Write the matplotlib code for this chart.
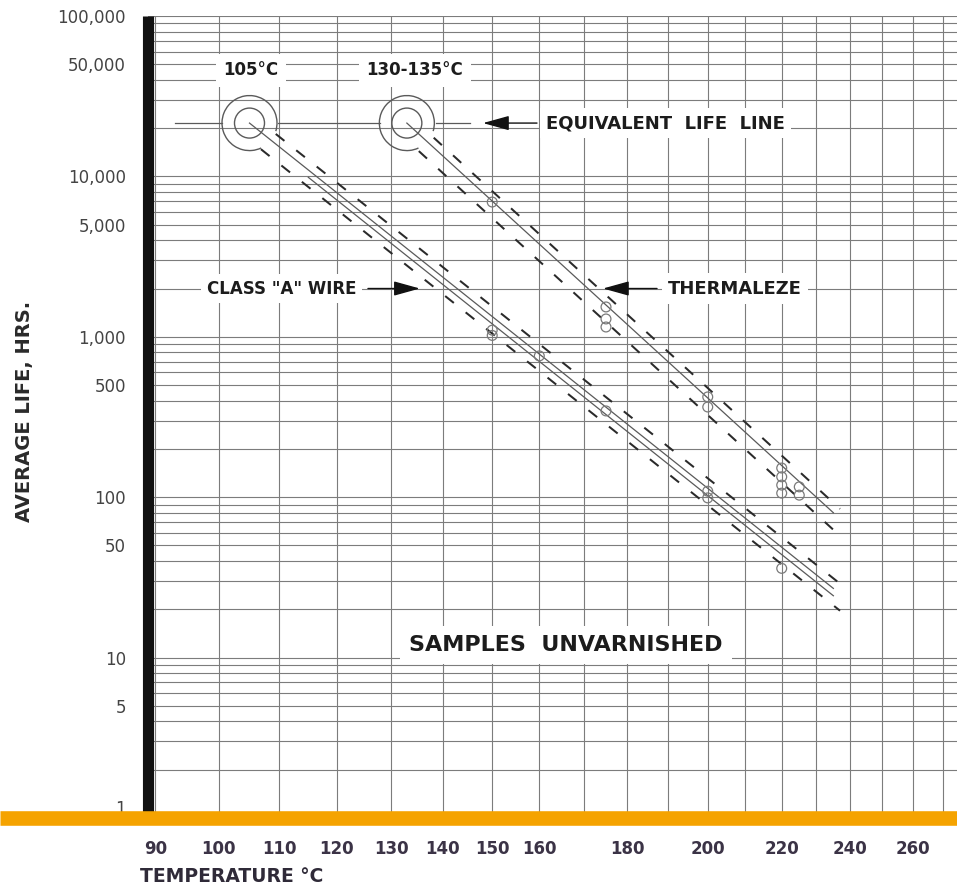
import numpy as np
import matplotlib
matplotlib.use('Agg')
import matplotlib.pyplot as plt
from matplotlib.patches import Arc
from matplotlib.lines import Line2D
from matplotlib.transforms import ScaledTranslation
from matplotlib.ticker import FixedLocator, NullLocator

plt.rcParams['font.family'] = ['DejaVu Sans']

# axis grid / labels
GRID_TEMPS = list(range(90, 280, 10))
TEMP_LABELS = [90, 100, 110, 120, 130, 140, 150, 160, 180, 200, 220, 240, 260]
LIFE_LABELS = [1, 5, 10, 50, 100, 500, 1000, 5000, 10000, 50000, 100000]

# equivalent life line and the two rated temperature circles
EQUIV_LIFE = 21500
RATED_TEMPS = [105, 133]
RATED_NAMES = ['105°C', '130-135°C']
EQUIV_SEGS_T = [(93.0, 100.5), (109.8, 127.9), (138.6, 145.4)]

# class "A" wire test points and lines
CLASSA_T = [150, 150, 160, 175, 200, 200, 220]
CLASSA_H = [1100, 1020, 760, 345, 109, 99, 36]
CLASSA_LINE_T = [105, 235]
CLASSA_LINE_H = [21500, 27]
CLASSA_LINE2_T = [115, 235]
CLASSA_LINE2_H = [9870, 24.3]
CLASSA_UP_T = [109.4, 237]
CLASSA_UP_H = [18390, 28.9]
CLASSA_LO_T = [106.9, 237]
CLASSA_LO_H = [14780, 19.6]

# thermaleze test points and lines
THERM_T = [150, 175, 175, 175, 200, 200, 220, 220, 220, 220, 225, 225]
THERM_H = [6920, 1535, 1292, 1151, 422, 365, 152, 134, 119, 106, 116, 103]
THERM_LINE_T = [133, 235]
THERM_LINE_H = [21500, 80]
THERM_UP_T = [138.2, 237]
THERM_UP_H = [17430, 84.6]
THERM_LO_T = [135.3, 237]
THERM_LO_H = [14380, 57.4]

GRID_COL = '#7c7c7c'
LINE_COL = '#5a5a5a'
DASH_COL = '#2a2a2a'
PT_COL = '#7a7a7a'
TXT_COL = '#1c1c1c'
ORANGE = '#F5A300'


# reciprocal absolute temperature scale (arrhenius paper)
def fwd(t):
	with np.errstate(divide='ignore', invalid='ignore'):
		return -1.0 / (np.asarray(t, float) + 273.0)

def inv(u):
	with np.errstate(divide='ignore', invalid='ignore'):
		return -1.0 / np.asarray(u, float) - 273.0


fig = plt.figure(figsize=(9.57, 8.9), dpi=100)
ax = fig.add_axes([148/957, 1 - 818/890, (957 - 148)/957, (818 - 16)/890])

ax.set_xscale('function', functions=(fwd, inv))
ax.set_yscale('log')
ax.set_xlim(88.9, 274.9)
ax.set_ylim(1, 100000)

ax.set_xticks(GRID_TEMPS)
ax.set_xticklabels([str(t) if t in TEMP_LABELS else '' for t in GRID_TEMPS])
ax.xaxis.set_minor_locator(NullLocator())

life_grid = [m * 10**d for d in range(5) for m in range(1, 10)] + [100000]
ax.yaxis.set_major_locator(FixedLocator(life_grid))
ax.yaxis.set_minor_locator(NullLocator())
ax.set_yticklabels(['{:,}'.format(v) if v in LIFE_LABELS else '' for v in life_grid])

ax.tick_params(axis='both', length=0)
ax.tick_params(axis='y', pad=16, labelsize=12, labelcolor='#444444')
ax.tick_params(axis='x', pad=16, labelsize=12, labelcolor='#3b3346')
for lab in ax.get_xticklabels():
	lab.set_fontweight('bold')
# the "1" sits just on top of the orange strip
ax.get_yticklabels()[0].set_verticalalignment('bottom')

ax.grid(True, color=GRID_COL, lw=0.8)
ax.set_axisbelow(True)

for s in ['top', 'right', 'bottom']:
	ax.spines[s].set_visible(False)
ax.spines['left'].set_linewidth(8)
ax.spines['left'].set_color('#111111')
ax.spines['left'].set_capstyle('butt')

# orange base strip across the whole sheet
fig.add_artist(Line2D([0, 1], [1 - 818/890, 1 - 818/890], transform=fig.transFigure,
	color=ORANGE, lw=10.5, solid_capstyle='butt', zorder=5))

# equivalent life line pieces
for a, b in EQUIV_SEGS_T:
	ax.plot([a, b], [EQUIV_LIFE, EQUIV_LIFE], color=LINE_COL, lw=0.9)

# rated circles
for t, name in zip(RATED_TEMPS, RATED_NAMES):
	ax.scatter([t], [EQUIV_LIFE], s=(30/1.389)**2, facecolors='none', edgecolors=LINE_COL, lw=1.0, zorder=3)
	trans = fig.dpi_scale_trans + ScaledTranslation(t, EQUIV_LIFE, ax.transData)
	ax.add_patch(Arc((0, 0), 0.55, 0.55, theta1=-17, theta2=295, transform=trans,
		color=LINE_COL, lw=1.0, zorder=3))

ax.text(105.2, 46000, RATED_NAMES[0], ha='center', va='center', fontsize=12, weight='bold', color=TXT_COL,
	bbox=dict(boxstyle='square,pad=0.45', fc='white', ec='none'), zorder=4)
ax.text(134.5, 46000, RATED_NAMES[1], ha='center', va='center', fontsize=12, weight='bold', color=TXT_COL,
	bbox=dict(boxstyle='square,pad=0.45', fc='white', ec='none'), zorder=4)

# life lines
dash = (0, (5.5, 7.5))
ax.plot(CLASSA_LINE_T, CLASSA_LINE_H, color=LINE_COL, lw=0.9)
ax.plot(CLASSA_LINE2_T, CLASSA_LINE2_H, color=LINE_COL, lw=0.9)
ax.plot(CLASSA_UP_T, CLASSA_UP_H, color=DASH_COL, lw=1.45, ls=dash)
ax.plot(CLASSA_LO_T, CLASSA_LO_H, color=DASH_COL, lw=1.45, ls=dash)
ax.plot(THERM_LINE_T, THERM_LINE_H, color=LINE_COL, lw=0.9)
ax.plot(THERM_UP_T, THERM_UP_H, color=DASH_COL, lw=1.45, ls=dash)
ax.plot(THERM_LO_T, THERM_LO_H, color=DASH_COL, lw=1.45, ls=dash)

ax.scatter(CLASSA_T, CLASSA_H, s=50, facecolors='none', edgecolors=PT_COL, lw=0.9, zorder=3)
ax.scatter(THERM_T, THERM_H, s=50, facecolors='none', edgecolors=PT_COL, lw=0.9, zorder=3)

# annotations
arrow = dict(arrowstyle='-|>,head_length=0.9,head_width=0.25', color='#111111', lw=1.0,
	shrinkA=0, shrinkB=0, mutation_scale=18)
white = dict(boxstyle='square,pad=0.35', fc='white', ec='none')

ax.annotate('', xy=(148.1, EQUIV_LIFE), xytext=(159.5, EQUIV_LIFE), arrowprops=arrow)
ax.text(161.5, EQUIV_LIFE, 'EQUIVALENT  LIFE  LINE', ha='left', va='center', fontsize=13,
	weight='bold', color=TXT_COL, bbox=white, zorder=4)

ax.text(110.4, 2000, 'CLASS "A" WIRE', ha='center', va='center', fontsize=12,
	weight='bold', color=TXT_COL, bbox=white, zorder=4)
ax.annotate('', xy=(135.5, 2000), xytext=(125.7, 2000), arrowprops=arrow)

ax.text(207.2, 2000, 'THERMALEZE', ha='center', va='center', fontsize=13,
	weight='bold', color=TXT_COL, bbox=white, zorder=4)
ax.annotate('', xy=(174.3, 2000), xytext=(187.2, 2000), arrowprops=arrow)

ax.text(165.9, 12.0, 'SAMPLES  UNVARNISHED', ha='center', va='center', fontsize=16,
	weight='bold', color=TXT_COL, bbox=dict(boxstyle='square,pad=0.4', fc='white', ec='none'), zorder=4)

# axis titles
fig.text(140/957, 1 - 876/890, 'TEMPERATURE °C', ha='left', va='center', fontsize=13.5,
	weight='bold', color='#2f2a38')
fig.text(25/957, 1 - 411/890, 'AVERAGE LIFE, HRS.', ha='center', va='center', rotation=90,
	fontsize=14, weight='bold', color='#2a2a2a')

fig.savefig('out.png', dpi=100)
